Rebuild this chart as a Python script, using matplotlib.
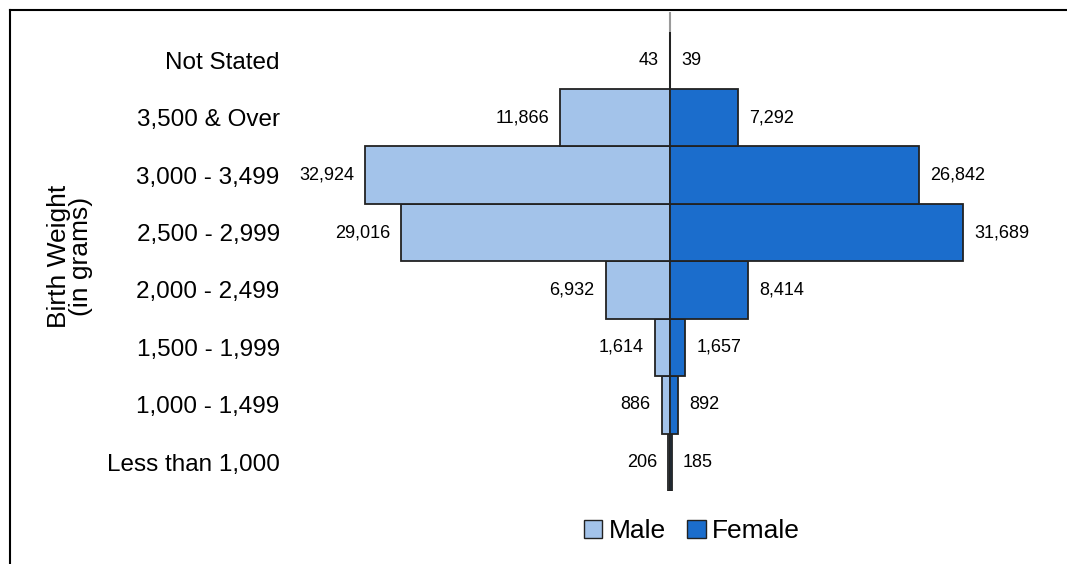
import matplotlib.pyplot as plt
from matplotlib.patches import Patch
from matplotlib.lines import Line2D

categories = ["Less than 1,000", "1,000 - 1,499", "1,500 - 1,999", "2,000 - 2,499",
              "2,500 - 2,999", "3,000 - 3,499", "3,500 & Over", "Not Stated"]
male = [206, 886, 1614, 6932, 29016, 32924, 11866, 43]
female = [185, 892, 1657, 8414, 31689, 26842, 7292, 39]

male_color = "#a3c3ea"
female_color = "#1b6dcc"

plt.rcParams['font.family'] = ['Liberation Sans', 'DejaVu Sans']

W, H = 1067, 564
fig = plt.figure(figsize=(W / 100, H / 100), dpi=100)
ax = fig.add_axes([295 / W, 1 - 491 / H, 750 / W, 479 / H])

y = range(len(categories))
ax.barh(y, [-v for v in male], height=1.0, color=male_color, edgecolor="#222222", linewidth=1.3)
ax.barh(y, female, height=1.0, color=female_color, edgecolor="#222222", linewidth=1.3)
ax.axvline(0, color="#9a9a9a", linewidth=1.5, zorder=0)

for i in y:
    ax.annotate(f"{male[i]:,}", (-male[i], i), xytext=(-8, 0), textcoords="offset points",
                ha="right", va="center", fontsize=13)
    ax.annotate(f"{female[i]:,}", (female[i], i), xytext=(8, 0), textcoords="offset points",
                ha="left", va="center", fontsize=13)

ax.set_xlim(-40500, 40500)
ax.set_ylim(-0.5, 7.84)
ax.set_yticks(list(y))
ax.set_yticklabels(categories, fontsize=17.5)
ax.tick_params(axis="y", length=0, pad=11)
ax.set_xticks([])
for s in ax.spines.values():
    s.set_visible(False)

fig.text(70 / W, 1 - 256 / H, "Birth Weight\n(in grams)", rotation=90, ha="center",
         va="center", fontsize=19, linespacing=0.92)

handles = [Patch(facecolor=male_color, edgecolor="#222222", label="Male"),
           Patch(facecolor=female_color, edgecolor="#222222", label="Female")]
fig.legend(handles=handles, loc="center", bbox_to_anchor=(692 / W, 1 - 531 / H), ncol=2,
           frameon=False, fontsize=19, handlelength=0.7, handleheight=0.7,
           handletextpad=0.25, columnspacing=0.8)

fig.add_artist(Line2D([10 / W, 10 / W], [0, 1 - 10 / H], color="black", linewidth=1.5))
fig.add_artist(Line2D([10 / W, 1], [1 - 10 / H, 1 - 10 / H], color="black", linewidth=1.5))

fig.savefig("out.png", dpi=100)
